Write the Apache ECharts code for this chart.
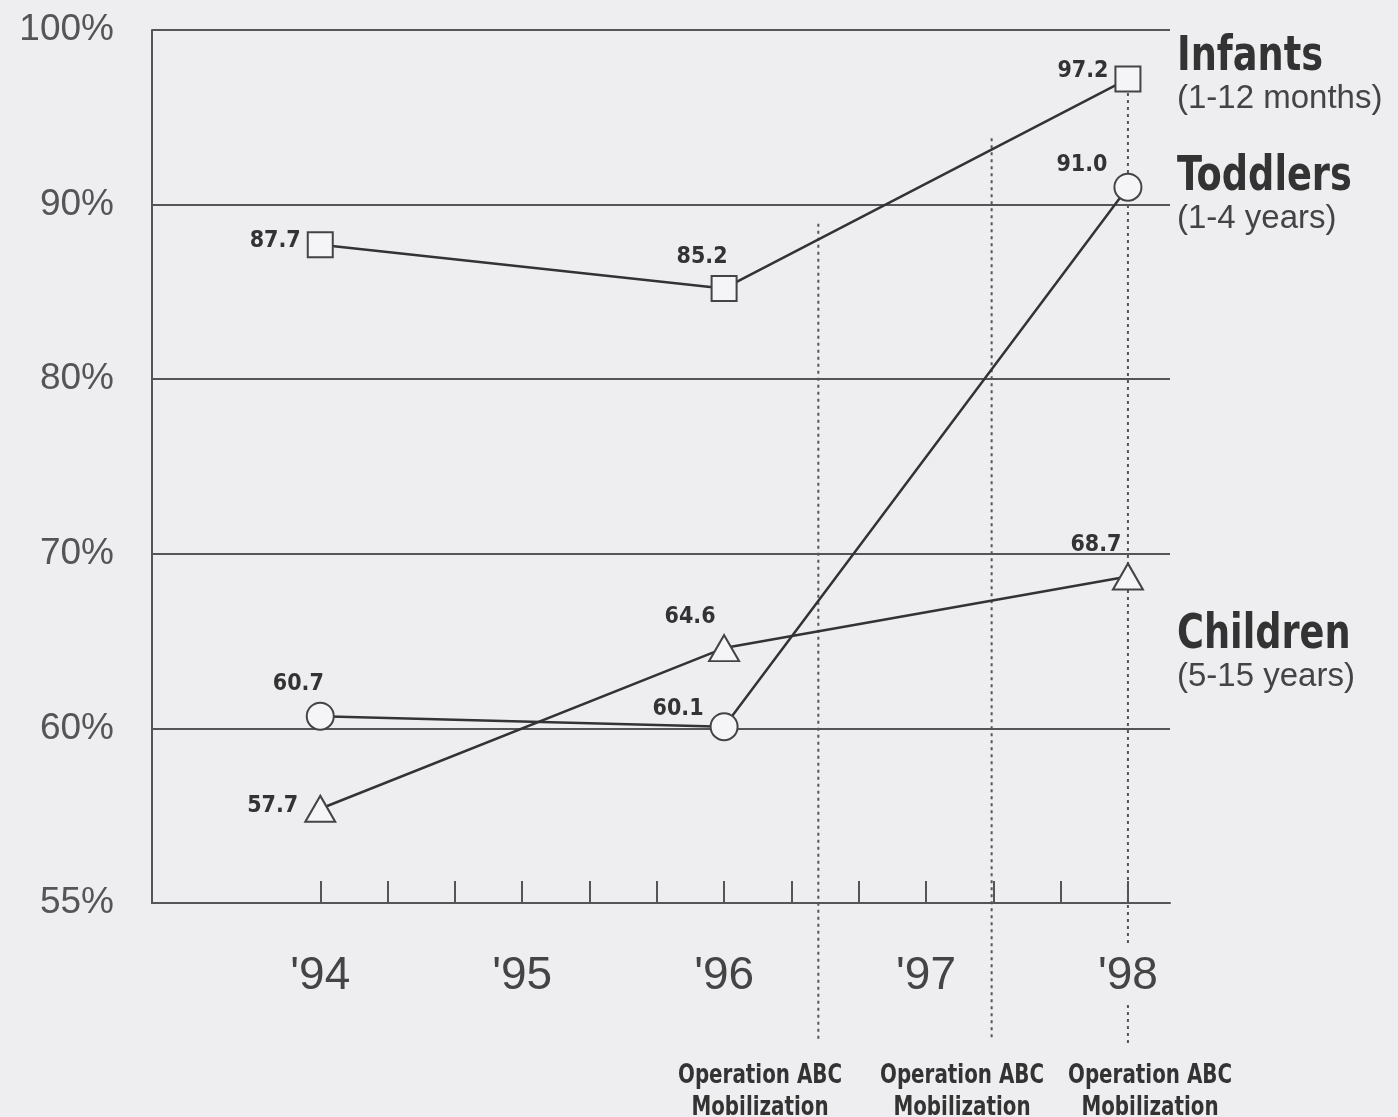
<!DOCTYPE html>
<html>
<head>
<meta charset="utf-8">
<script src="https://cdn.jsdelivr.net/npm/echarts@6/dist/echarts.min.js"></script>
<style>
  html, body { margin: 0; padding: 0; background: #eeeef1; }
  #chart { width: 1398px; height: 1117px; }
</style>
</head>
<body>
<div id="chart"></div>
<script>
// survey years, counted in months from the start of '94
const yearLabels = ["'94", "'95", "'96", "'97", "'98"];
const yearMonths = [0, 12, 24, 36, 48];
const surveyMonths = [0, 24, 48];

// coverage in percent
const infants = [87.7, 85.2, 97.2];
const toddlers = [60.7, 60.1, 91.0];
const children = [57.7, 64.6, 68.7];

// Operation ABC mobilization rounds (month) and the value where their dotted line begins
const operationMonths = [29.6, 39.9, 48];
const operationTops = [88.9, 93.8, 97.2];
const operationText = 'Operation ABC\nMobilization';

// the y axis is broken: 55%..60% gets the height of a 10-point step
function toAxis(v) { return v >= 60 ? v : 60 - (60 - v) * 2; }
function fromAxis(v) { return v >= 60 ? v : 60 - (60 - v) / 2; }

const tickMonths = [];
for (let m = 0; m <= 48; m += 4) tickMonths.push(m);

const narrow = '"DejaVu Sans"';
const plain = '"Liberation Sans", Arial, sans-serif';

function lineSeries(name, values, symbol, size, labelPlaces) {
    return {
        type: 'line',
        name: name,
        z: 5,
        symbol: symbol,
        symbolSize: size,
        lineStyle: { color: '#333', width: 2.5 },
        itemStyle: { color: '#f5f5f7', borderColor: '#444', borderWidth: 2 },
        label: {
            show: true,
            fontFamily: narrow,
            fontWeight: 'bold condensed',
            fontSize: 23,
            color: '#333',
            distance: 6,
            formatter: p => values[p.dataIndex].toFixed(1)
        },
        data: surveyMonths.map((m, i) => ({
            value: [m, toAxis(values[i])],
            label: { position: labelPlaces[i][0], offset: labelPlaces[i][1] }
        }))
    };
}

// bold condensed text squeezed a little more, like the printed original
function tightText(x, y, text, size, align) {
    return {
        type: 'text', x: x, y: y, scaleX: 0.85, scaleY: 1,
        style: {
            text: text, font: 'bold condensed ' + size + 'px ' + narrow, fill: '#333',
            align: align, lineHeight: Math.round(size * 1.22)
        }
    };
}
function plainText(x, y, text) {
    return { type: 'text', x: x, y: y, style: { text: text, font: '33px ' + plain, fill: '#444' } };
}

const chart = echarts.init(document.getElementById('chart'));

chart.setOption({
    backgroundColor: '#eeeef1',
    animation: false,
    grid: { left: 152, right: 228, top: 30, bottom: 214 },
    xAxis: {
        type: 'value',
        min: -10,
        max: 50.5,
        axisLine: { show: true, onZero: false, lineStyle: { color: '#555', width: 2 } },
        axisTick: {
            show: true, inside: true, length: 22, customValues: tickMonths,
            lineStyle: { color: '#555', width: 2 }
        },
        axisLabel: {
            customValues: yearMonths,
            formatter: v => yearLabels[yearMonths.indexOf(v)],
            fontFamily: plain, fontSize: 46, color: '#444', margin: 50
        },
        splitLine: { show: false }
    },
    yAxis: {
        type: 'value',
        min: 50,
        max: 100,
        interval: 10,
        axisLine: { show: true, onZero: false, lineStyle: { color: '#555', width: 2 } },
        axisTick: { show: false },
        axisLabel: {
            formatter: v => fromAxis(v) + '%',
            fontFamily: plain, fontSize: 37, color: '#555', margin: 38,
            padding: [6, 0, 0, 0]
        },
        splitLine: { show: true, lineStyle: { color: '#555', width: 2 } }
    },
    series: [
        {
            type: 'custom',
            z: 2,
            clip: false,
            silent: true,
            data: operationMonths.map((m, i) => [m, toAxis(operationTops[i])]),
            renderItem: function (params, api) {
                const top = api.coord([api.value(0), api.value(1)]);
                const cs = params.coordSys;
                const base = cs.y + cs.height;
                const style = { stroke: '#555', lineWidth: 2, lineDash: [3, 4] };
                const nearYear = yearMonths.some(m => Math.abs(m - api.value(0)) < 1);
                const parts = nearYear
                    ? [[top[1], base + 42], [base + 102, base + 142]]
                    : [[top[1], base + 137]];
                return {
                    type: 'group',
                    children: parts.map(p => ({
                        type: 'line',
                        shape: { x1: top[0], y1: p[0], x2: top[0], y2: p[1] },
                        style: style
                    }))
                };
            }
        },
        lineSeries('Infants', infants, 'rect', 25,
            [['left', [0, -4]], ['top', [-22, 0]], ['left', [0, -8]]]),
        lineSeries('Toddlers', toddlers, 'circle', 27,
            [['top', [-22, 0]], ['left', [0, -18]], ['left', [0, -22]]]),
        lineSeries('Children', children, 'triangle', [30, 26],
            [['left', [0, -3]], ['top', [-34, 0]], ['top', [-32, 0]]])
    ],
    graphic: [
        tightText(1177, 28, 'Infants', 48, 'left'),
        plainText(1177, 82, '(1-12 months)'),
        tightText(1177, 148, 'Toddlers', 48, 'left'),
        plainText(1177, 202, '(1-4 years)'),
        tightText(1177, 606, 'Children', 48, 'left'),
        plainText(1177, 660, '(5-15 years)'),
        tightText(760, 1060, operationText, 26, 'center'),
        tightText(962, 1060, operationText, 26, 'center'),
        tightText(1150, 1060, operationText, 26, 'center')
    ]
});
</script>
</body>
</html>
